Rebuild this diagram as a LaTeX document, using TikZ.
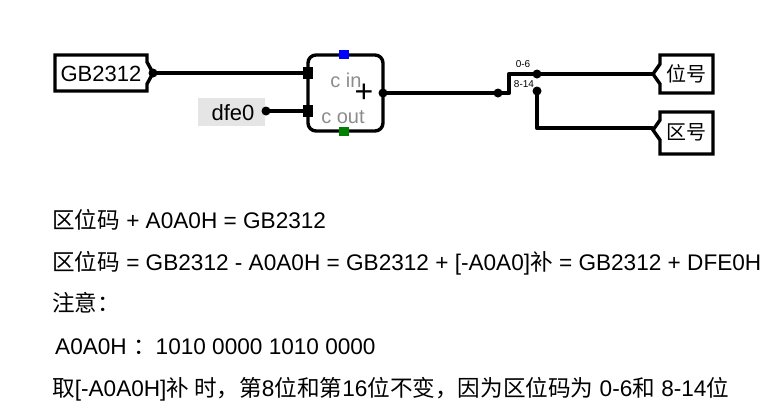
\documentclass[tikz,border=0pt]{standalone}
\usepackage{fontspec}
\setmainfont{Liberation Sans}
\newfontfamily\cjk{Noto Sans CJK SC}
\usetikzlibrary{positioning}
\newcommand{\cn}[1]{{\cjk #1}}
\tikzset{%
	wire/.style   = {line width=4.2pt, line cap=round, line join=round},
	pinbox/.style = {line width=3.4pt, line join=miter},
	dot/.style    = {circle, fill, inner sep=0pt, minimum size=9pt},
	gray text/.style = {text=gray!90, font=\fontsize{20}{20}\selectfont},
	line/.style   = {anchor=base west, font=\fontsize{22.6}{24}\selectfont, inner sep=0pt},
}
\begin{document}
\begin{tikzpicture}[x=1pt,y=-1pt]
	\useasboundingbox (0,0) rectangle (768,413);
	% input pin and constant
	\draw[pinbox] (55,55) -- (147,55) -- (147,62) -- (153,73) -- (147,84) -- (147,91) -- (55,91) -- cycle;
	\node[anchor=west, font=\fontsize{22}{22}\selectfont] (gb) at (57,74) {GB2312};
	\coordinate (gbout) at (153,73);
	\fill[gray!20] (198,98) rectangle (265,126);
	\node[font=\fontsize{22}{22}\selectfont] (dfe) at (233,113) {dfe0};
	\coordinate (dfeout) at (266,111);
	% adder
	\draw[line width=3.4pt, rounded corners=8pt] (308,55) rectangle (383,131);
	\fill[blue] (339,50) rectangle (349,59);
	\fill[green!50!black] (339,127) rectangle (349,136);
	\coordinate (ain) at (308,73);
	\coordinate (bin) at (308,111);
	\coordinate (sum) at (383,93);
	\node[gray text] (cin) at (346,80) {c in};
	\node[gray text] (cout) at (343,117) {c out};
	\node[font=\fontsize{32}{32}\selectfont] (plus) at (364,93) {+};
	\fill (ain) ++(-5,-6) rectangle ++(10,12);
	\fill (bin) ++(-5,-6) rectangle ++(10,12);
	\draw[wire] (gbout) -- (ain);
	\draw[wire] (dfeout) -- (bin);
	\node[dot] at (dfeout) {};
	\node[dot] at (gbout) {};
	% splitter
	\coordinate (spin) at (498,93);
	\coordinate (lo) at (537,74);
	\coordinate (hi) at (537,91);
	\draw[wire] (sum) -- (spin) -- (509,93) -- (509,74) -- (lo) -- (652,74);
	\draw[wire] (hi) -- (537,128) -- (652,128);
	\node[dot] at (sum) {};
	\node[dot] at (spin) {};
	\node[dot] at (lo) {};
	\node[dot] at (hi) {};
	\fill[white] (512,79) rectangle (533,89);
	\node[font=\fontsize{10}{10}\selectfont] (lolab) at (523,64) {0-6};
	\node[font=\fontsize{10}{10}\selectfont] (hilab) at (524,84) {8-14};
	% output pins
	\draw[pinbox] (713,55) -- (660,55) -- (660,64) -- (653,74) -- (660,84) -- (660,93) -- (713,93) -- cycle;
	\node[font=\fontsize{20}{20}\selectfont] (wei) at (686,74) {\cn{位号}};
	\draw[pinbox] (713,112) -- (660,112) -- (660,120) -- (653,130) -- (660,140) -- (660,154) -- (713,154) -- cycle;
	\node[font=\fontsize{20}{20}\selectfont] (qu) at (686,132) {\cn{区号}};
	% notes
	\node[line] (l1) at (52,228) {\cn{区位码} + A0A0H = GB2312};
	\node[line] (l2) at (52,270) {\cn{区位码} = GB2312 - A0A0H = GB2312 + [-A0A0]\cn{补} = GB2312 + DFE0H};
	\node[line] (l3) at (52,311) {\cn{注意：}};
	\node[line] (l4) at (55,354) {A0A0H \cn{：}1010 0000 1010 0000};
	\node[line] (l5) at (52,396) {\cn{取}[-A0A0H]\cn{补 时，第}8\cn{位和第}16\cn{位不变，因为区位码为} 0-6\cn{和} 8-14\cn{位}};
\end{tikzpicture}
\end{document}
